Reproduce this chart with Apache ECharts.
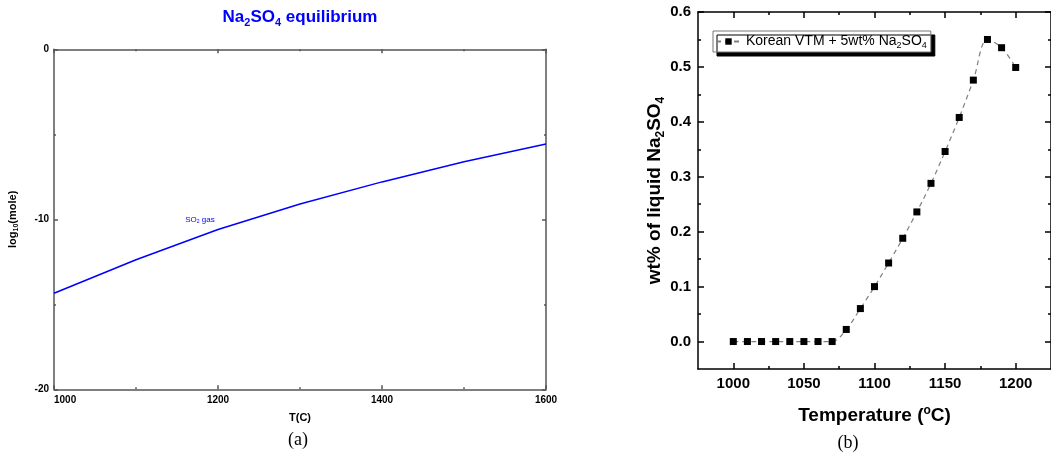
<!DOCTYPE html>
<html>
<head>
<meta charset="utf-8">
<script src="https://cdn.jsdelivr.net/npm/echarts@6/dist/echarts.min.js"></script>
<style>
  html, body { margin: 0; padding: 0; background: #fff; }
  #chart { width: 1051px; height: 458px; }
</style>
</head>
<body>
<div id="chart"></div>
<script>
// (a) Na2SO4 equilibrium, SO2 gas
var tempA = [1000, 1100, 1200, 1300, 1400, 1500, 1600];
var so2Gas = [-14.35, -12.38, -10.6, -9.1, -7.8, -6.62, -5.57];

// (b) liquid Na2SO4
var tempB = [1000, 1010, 1020, 1030, 1040, 1050, 1060, 1070, 1080, 1090, 1100,
             1110, 1120, 1130, 1140, 1150, 1160, 1170, 1180, 1190, 1200];
var liquidNa2SO4 = [0, 0, 0, 0, 0, 0, 0, 0, 0.022, 0.06, 0.1,
                    0.143, 0.188, 0.236, 0.288, 0.346, 0.408, 0.476, 0.55, 0.535, 0.499];

var bTicksX = [1000, 1050, 1100, 1150, 1200];
var bMinorX = [1025, 1075, 1125, 1175];
var bTicksY = [0, 0.1, 0.2, 0.3, 0.4, 0.5, 0.6];
var bMinorY = [0.05, 0.15, 0.25, 0.35, 0.45, 0.55];

var FONT = 'Liberation Sans';
var seriesName = 'Korean VTM + 5wt% Na2SO4';

function pairs(xs, ys) {
  return xs.map(function (x, i) { return [x, ys[i]]; });
}
function plain(v) { return String(v); }

var chart = echarts.init(document.getElementById('chart'));

var axA = { color: '#555', width: 1.5 };
var axB = { color: '#000', width: 1.5 };

var option = {
  animation: false,
  textStyle: { fontFamily: FONT },
  grid: [
    { left: 54, top: 49.3, width: 492, height: 340 },
    { left: 698, top: 12, width: 356, height: 357 }
  ],
  legend: {
    data: [seriesName],
    left: 713,
    top: 31,
    padding: [2, 4, 2, 2],
    itemWidth: 25,
    itemHeight: 8,
    backgroundColor: '#fff',
    borderColor: '#777',
    borderWidth: 1,
    borderRadius: 0,
    shadowColor: '#000',
    shadowOffsetX: 4,
    shadowOffsetY: 4,
    shadowBlur: 0,
    formatter: function () { return 'Korean VTM + 5wt% Na{s|2}SO{s|4}'; },
    textStyle: {
      fontSize: 14, color: '#000', lineHeight: 17, fontFamily: FONT,
      rich: { s: { fontSize: 9, lineHeight: 9, verticalAlign: 'bottom', color: '#000', fontFamily: FONT } }
    }
  },
  xAxis: [
    {
      gridIndex: 0, type: 'value', position: 'bottom',
      min: 1000, max: 1600, interval: 200,
      axisLine: { onZero: false, lineStyle: axA },
      axisTick: { inside: true, length: 4, lineStyle: axA },
      minorTick: { show: true, splitNumber: 2, length: 2, lineStyle: axA },
      splitLine: { show: false },
      axisLabel: { formatter: plain, alignMinLabel: 'left', fontSize: 10, fontWeight: 'bold', color: '#000', margin: 6, fontFamily: FONT },
      name: 'T(C)', nameLocation: 'middle', nameGap: 23,
      nameTextStyle: { fontSize: 11, fontWeight: 'bold', color: '#000', fontFamily: FONT }
    },
    {
      gridIndex: 0, type: 'value', position: 'top',
      min: 1000, max: 1600, interval: 200,
      axisLine: { onZero: false, lineStyle: axA },
      axisTick: { inside: true, length: 4, lineStyle: axA },
      minorTick: { show: true, splitNumber: 2, length: 2, lineStyle: axA },
      splitLine: { show: false },
      axisLabel: { show: false }
    },
    {
      gridIndex: 1, type: 'value', position: 'bottom',
      min: 975, max: 1225,
      axisLine: { onZero: false, lineStyle: axB },
      axisTick: { inside: true, length: 6, lineStyle: axB, customValues: bTicksX },
      splitLine: { show: false },
      axisLabel: { customValues: bTicksX, formatter: plain, fontSize: 15, fontWeight: 'bold', color: '#000', margin: 7, fontFamily: FONT },
      name: 'Temperature ({p|o}C)', nameLocation: 'middle', nameGap: 36,
      nameTextStyle: {
        fontSize: 19, fontWeight: 'bold', color: '#000', lineHeight: 22, fontFamily: FONT,
        rich: { p: { fontSize: 12, lineHeight: 12, verticalAlign: 'top', fontWeight: 'bold', color: '#000', fontFamily: FONT } }
      }
    },
    {
      gridIndex: 1, type: 'value', position: 'bottom',
      min: 975, max: 1225,
      axisLine: { show: false, onZero: false },
      axisTick: { inside: true, length: 3, lineStyle: axB, customValues: bMinorX },
      splitLine: { show: false },
      axisLabel: { show: false }
    },
    {
      gridIndex: 1, type: 'value', position: 'top',
      min: 975, max: 1225,
      axisLine: { onZero: false, lineStyle: axB },
      axisTick: { inside: true, length: 6, lineStyle: axB, customValues: bTicksX },
      splitLine: { show: false },
      axisLabel: { show: false }
    },
    {
      gridIndex: 1, type: 'value', position: 'top',
      min: 975, max: 1225,
      axisLine: { show: false, onZero: false },
      axisTick: { inside: true, length: 3, lineStyle: axB, customValues: bMinorX },
      splitLine: { show: false },
      axisLabel: { show: false }
    }
  ],
  yAxis: [
    {
      gridIndex: 0, type: 'value', position: 'left',
      min: -20, max: 0, interval: 10,
      axisLine: { onZero: false, lineStyle: axA },
      axisTick: { inside: true, length: 4, lineStyle: axA },
      minorTick: { show: true, splitNumber: 2, length: 2, lineStyle: axA },
      splitLine: { show: false },
      axisLabel: { formatter: plain, fontSize: 10, fontWeight: 'bold', color: '#000', margin: 5, fontFamily: FONT },
      name: 'log{s|10}(mole)', nameLocation: 'middle', nameGap: 34,
      nameTextStyle: {
        fontSize: 11, fontWeight: 'bold', color: '#000', lineHeight: 14, fontFamily: FONT,
        rich: { s: { fontSize: 7, lineHeight: 7, verticalAlign: 'bottom', fontWeight: 'bold', color: '#000', fontFamily: FONT } }
      }
    },
    {
      gridIndex: 0, type: 'value', position: 'right',
      min: -20, max: 0, interval: 10,
      axisLine: { onZero: false, lineStyle: axA },
      axisTick: { inside: true, length: 4, lineStyle: axA },
      minorTick: { show: true, splitNumber: 2, length: 2, lineStyle: axA },
      splitLine: { show: false },
      axisLabel: { show: false }
    },
    {
      gridIndex: 1, type: 'value', position: 'left',
      min: -0.05, max: 0.6,
      axisLine: { onZero: false, lineStyle: axB },
      axisTick: { inside: true, length: 6, lineStyle: axB, customValues: bTicksY },
      splitLine: { show: false },
      axisLabel: {
        customValues: bTicksY, fontSize: 15, fontWeight: 'bold', color: '#000', margin: 7, fontFamily: FONT,
        formatter: function (v) { return v.toFixed(1); }
      },
      name: 'wt% of liquid Na{s|2}SO{s|4}', nameLocation: 'middle', nameGap: 30,
      nameTextStyle: {
        fontSize: 19, fontWeight: 'bold', color: '#000', lineHeight: 22, fontFamily: FONT,
        rich: { s: { fontSize: 12, lineHeight: 12, verticalAlign: 'bottom', fontWeight: 'bold', color: '#000', fontFamily: FONT } }
      }
    },
    {
      gridIndex: 1, type: 'value', position: 'left',
      min: -0.05, max: 0.6,
      axisLine: { show: false, onZero: false },
      axisTick: { inside: true, length: 3, lineStyle: axB, customValues: bMinorY },
      splitLine: { show: false },
      axisLabel: { show: false }
    },
    {
      gridIndex: 1, type: 'value', position: 'right',
      min: -0.05, max: 0.6,
      axisLine: { onZero: false, lineStyle: axB },
      axisTick: { inside: true, length: 6, lineStyle: axB, customValues: bTicksY },
      splitLine: { show: false },
      axisLabel: { show: false }
    },
    {
      gridIndex: 1, type: 'value', position: 'right',
      min: -0.05, max: 0.6,
      axisLine: { show: false, onZero: false },
      axisTick: { inside: true, length: 3, lineStyle: axB, customValues: bMinorY },
      splitLine: { show: false },
      axisLabel: { show: false }
    }
  ],
  series: [
    {
      name: 'SO2 gas',
      type: 'line',
      xAxisIndex: 0, yAxisIndex: 0,
      data: pairs(tempA, so2Gas),
      symbol: 'none',
      lineStyle: { color: '#0000ff', width: 1.5 },
      itemStyle: { color: '#0000ff' },
      markPoint: {
        symbol: 'circle', symbolSize: 0,
        itemStyle: { color: 'transparent' },
        label: {
          show: true, position: 'inside',
          formatter: 'SO{s|2} gas',
          fontSize: 8, color: '#0000ff', fontFamily: FONT, lineHeight: 10,
          rich: { s: { fontSize: 5, lineHeight: 5, verticalAlign: 'bottom', color: '#0000ff', fontFamily: FONT } }
        },
        data: [{ coord: [1178, -10] }]
      }
    },
    {
      name: seriesName,
      type: 'line',
      xAxisIndex: 2, yAxisIndex: 2,
      data: pairs(tempB, liquidNa2SO4),
      smooth: 0.35,
      symbol: 'rect',
      symbolSize: 7,
      itemStyle: { color: '#000' },
      lineStyle: { color: '#808080', width: 1.2, type: [5, 4] },
      z: 3
    }
  ],
  graphic: [
    {
      type: 'text', x: 300, y: 17,
      style: {
        text: '{b|Na}{s|2}{b|SO}{s|4}{b| equilibrium}',
        align: 'center', verticalAlign: 'middle',
        rich: {
          b: { fontSize: 17, fontWeight: 'bold', fill: '#0000ff', lineHeight: 22, fontFamily: FONT },
          s: { fontSize: 11, fontWeight: 'bold', fill: '#0000ff', lineHeight: 11, verticalAlign: 'bottom', fontFamily: FONT }
        }
      }
    },
    {
      type: 'text', x: 298, y: 440,
      style: { text: '(a)', fontSize: 18, fontFamily: 'Liberation Serif', fill: '#000', align: 'center', verticalAlign: 'middle' }
    },
    {
      type: 'text', x: 848, y: 443,
      style: { text: '(b)', fontSize: 18, fontFamily: 'Liberation Serif', fill: '#000', align: 'center', verticalAlign: 'middle' }
    }
  ]
};

chart.setOption(option);
</script>
</body>
</html>
